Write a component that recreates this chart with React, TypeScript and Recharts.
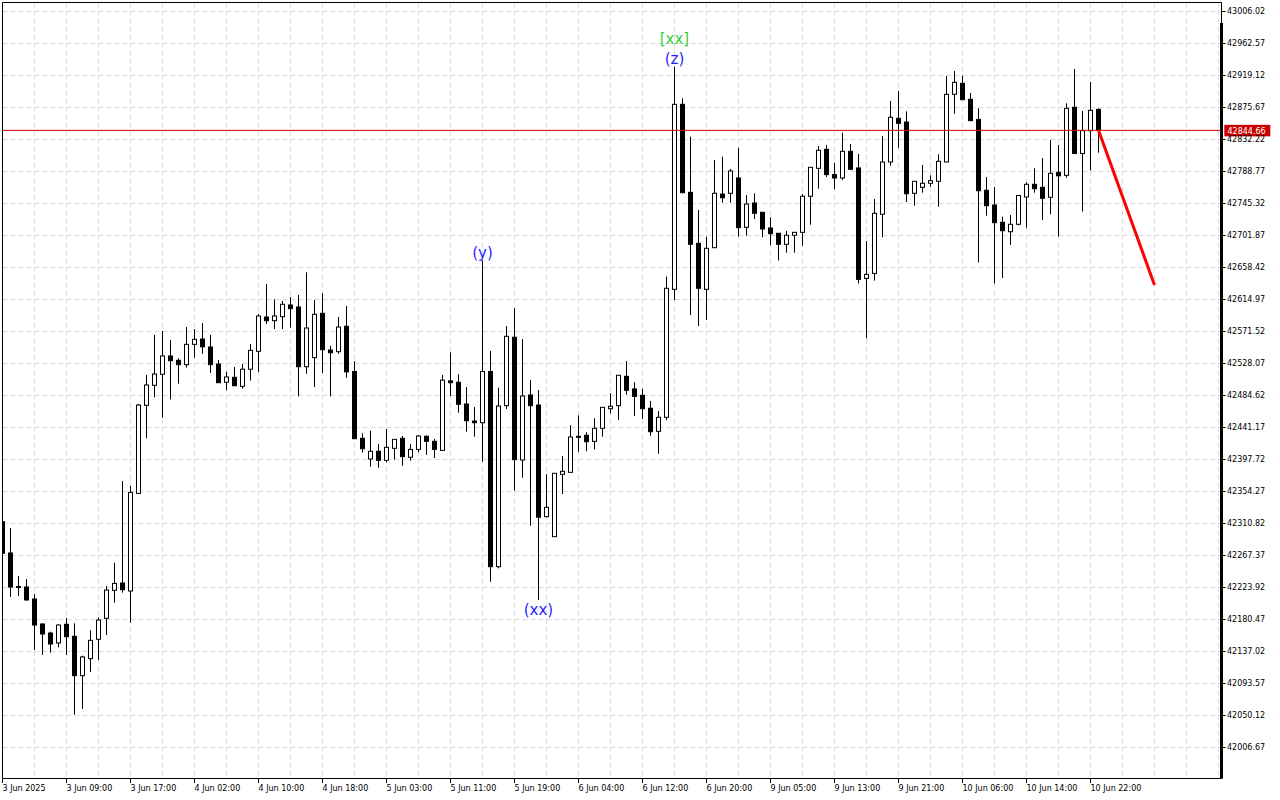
import React from 'react';
import { ComposedChart, Bar, XAxis, YAxis, CartesianGrid, ReferenceLine, ReferenceDot } from 'recharts';

// Hourly candles (index 0 = first visible bar)
const opens = [
  42313.3, 42270.8, 42225.3, 42224.6, 42208.3, 42174.4, 42162.1, 42148.6, 42174.0, 42157.7,
  42104.2, 42127.3, 42153.6, 42182.1, 42220.1, 42230.0, 42219.2, 42351.7, 42471.3, 42498.5,
  42513.4, 42538.3, 42532.4, 42526.5, 42554.1, 42561.3, 42550.5, 42527.4, 42502.6, 42509.3,
  42497.1, 42520.3, 42544.6, 42591.2, 42586.2, 42591.6, 42607.5, 42604.8, 42523.7, 42536.0,
  42596.2, 42546.4, 42544.1, 42578.6, 42517.2, 42426.5, 42398.4, 42408.9, 42396.6, 42412.9,
  42426.5, 42400.8, 42411.4, 42429.2, 42422.4, 42410.1, 42504.5, 42502.6, 42473.1, 42450.0,
  42447.7, 42517.2, 42252.2, 42470.8, 42563.7, 42397.1, 42485.3, 42471.7, 42320.1, 42292.9,
  42377.6, 42380.3, 42429.2, 42430.6, 42422.4, 42440.1, 42466.7, 42470.8, 42510.7, 42493.5,
  42484.9, 42467.3, 42436.0, 42455.0, 42628.8, 42880.0, 42760.5, 42691.3, 42628.8, 42685.3,
  42758.2, 42759.2, 42780.0, 42713.0, 42746.0, 42733.4, 42712.1, 42704.9, 42689.9, 42702.2,
  42706.2, 42755.2, 42793.1, 42818.9, 42784.6, 42780.0, 42816.2, 42793.6, 42643.6, 42650.4,
  42730.7, 42801.7, 42861.0, 42856.0, 42759.2, 42767.3, 42772.8, 42775.5, 42801.7, 42893.6,
  42908.5, 42886.8, 42859.5, 42763.3, 42743.3, 42719.8, 42707.0, 42717.1, 42754.2, 42771.4,
  42767.3, 42753.8, 42787.7, 42783.6, 42876.0, 42813.2, 42844.2, 42873.2,
];
const highs = [
  42316.9, 42304.7, 42239.5, 42235.5, 42215.1, 42175.0, 42163.9, 42174.0, 42182.5, 42175.3,
  42131.3, 42165.8, 42183.5, 42226.0, 42257.6, 42368.5, 42361.8, 42473.1, 42512.5, 42566.8,
  42572.2, 42560.0, 42535.1, 42577.6, 42574.9, 42583.1, 42566.8, 42532.8, 42516.7, 42523.3,
  42527.4, 42554.6, 42595.3, 42636.0, 42615.2, 42612.9, 42618.4, 42621.1, 42651.9, 42614.3,
  42623.5, 42552.1, 42591.2, 42606.2, 42531.1, 42433.3, 42436.8, 42418.8, 42439.1, 42425.1,
  42429.6, 42418.8, 42431.0, 42430.6, 42425.6, 42512.5, 42543.3, 42513.4, 42496.2, 42469.0,
  42667.9, 42545.1, 42495.2, 42579.0, 42603.4, 42561.3, 42505.7, 42492.1, 42377.6, 42379.0,
  42402.5, 42444.2, 42457.7, 42434.7, 42453.7, 42468.6, 42487.6, 42512.1, 42531.5, 42502.6,
  42493.5, 42477.2, 42463.6, 42646.1, 42931.1, 42888.2, 42836.0, 42736.5, 42700.2, 42804.4,
  42808.9, 42792.2, 42821.1, 42756.9, 42759.2, 42733.4, 42726.6, 42704.9, 42708.0, 42706.2,
  42758.2, 42794.5, 42823.4, 42824.8, 42800.7, 42841.5, 42826.1, 42812.5, 42694.4, 42751.4,
  42837.0, 42884.5, 42898.1, 42870.5, 42775.5, 42797.6, 42783.6, 42812.1, 42918.4, 42925.2,
  42918.9, 42895.4, 42874.6, 42781.3, 42767.7, 42727.4, 42729.7, 42756.9, 42774.1, 42793.1,
  42807.1, 42831.6, 42824.8, 42881.4, 42928.0, 42870.9, 42910.3, 42874.6,
];
const lows = [
  42266.7, 42211.0, 42212.4, 42206.0, 42139.1, 42132.3, 42135.4, 42142.7, 42132.3, 42051.2,
  42059.0, 42109.2, 42125.5, 42159.4, 42203.3, 42216.9, 42176.1, 42350.9, 42426.5, 42482.1,
  42454.5, 42479.4, 42500.7, 42522.4, 42536.0, 42541.3, 42515.3, 42502.0, 42491.7, 42497.9,
  42493.9, 42504.9, 42516.7, 42581.7, 42574.9, 42574.9, 42576.7, 42483.4, 42514.2, 42496.2,
  42515.3, 42483.4, 42541.3, 42508.8, 42426.0, 42407.0, 42388.0, 42386.6, 42393.9, 42397.5,
  42389.3, 42396.1, 42407.5, 42404.0, 42399.8, 42410.1, 42484.0, 42461.3, 42435.5, 42428.7,
  42394.7, 42231.8, 42250.0, 42466.3, 42355.4, 42373.0, 42307.8, 42207.0, 42319.3, 42292.9,
  42350.9, 42380.3, 42408.3, 42408.9, 42411.4, 42428.7, 42460.5, 42451.4, 42485.7, 42456.8,
  42452.7, 42430.0, 42405.5, 42451.0, 42614.3, 42759.2, 42593.9, 42579.0, 42587.1, 42685.3,
  42746.4, 42746.4, 42700.2, 42701.6, 42724.3, 42699.4, 42688.6, 42667.9, 42678.5, 42678.5,
  42688.1, 42716.5, 42765.4, 42781.3, 42764.7, 42777.2, 42791.8, 42636.8, 42562.3, 42640.6,
  42699.4, 42796.6, 42821.1, 42747.4, 42742.3, 42760.0, 42768.1, 42741.0, 42801.7, 42867.3,
  42886.3, 42857.8, 42665.3, 42728.8, 42636.8, 42644.2, 42689.0, 42715.7, 42712.5, 42760.0,
  42722.9, 42730.7, 42700.2, 42780.4, 42813.2, 42734.3, 42790.3, 42814.3,
];
const closes = [
  42270.4, 42224.6, 42223.9, 42207.0, 42173.0, 42160.8, 42147.2, 42173.0, 42157.1, 42104.2,
  42129.6, 42152.2, 42179.8, 42220.5, 42229.4, 42220.9, 42353.1, 42471.7, 42498.9, 42513.8,
  42538.3, 42531.9, 42526.5, 42554.1, 42560.9, 42550.8, 42526.5, 42502.0, 42509.8, 42497.9,
  42520.3, 42546.0, 42592.6, 42586.2, 42592.6, 42608.5, 42602.5, 42523.7, 42576.3, 42594.9,
  42546.8, 42542.7, 42577.6, 42516.7, 42426.0, 42412.4, 42408.9, 42396.6, 42414.3, 42425.1,
  42401.6, 42411.4, 42429.6, 42422.4, 42411.4, 42505.5, 42502.0, 42472.7, 42450.4, 42447.7,
  42517.2, 42252.2, 42470.4, 42565.0, 42397.5, 42484.0, 42470.8, 42319.3, 42332.8, 42379.0,
  42381.7, 42428.3, 42427.9, 42421.9, 42440.1, 42468.6, 42470.0, 42512.1, 42491.7, 42483.4,
  42466.7, 42435.5, 42455.0, 42630.2, 42880.0, 42760.0, 42689.9, 42630.2, 42684.5, 42759.2,
  42753.1, 42789.5, 42712.5, 42744.6, 42732.0, 42710.7, 42704.3, 42689.9, 42702.2, 42706.2,
  42755.2, 42794.5, 42817.6, 42784.6, 42780.0, 42816.2, 42791.8, 42642.3, 42649.1, 42732.0,
  42801.7, 42862.4, 42854.2, 42758.6, 42775.5, 42772.8, 42776.4, 42802.6, 42893.6, 42909.9,
  42886.3, 42857.8, 42762.7, 42742.3, 42719.3, 42708.4, 42717.1, 42756.2, 42771.4, 42765.4,
  42752.4, 42786.3, 42782.9, 42874.6, 42813.2, 42844.2, 42871.9, 42844.66,
];

// Time labels, one every 8 bars
const timeLabels = [
  '3 Jun 2025', '3 Jun 09:00', '3 Jun 17:00', '4 Jun 02:00', '4 Jun 10:00', '4 Jun 18:00',
  '5 Jun 03:00', '5 Jun 11:00', '5 Jun 19:00', '6 Jun 04:00', '6 Jun 12:00', '6 Jun 20:00',
  '9 Jun 05:00', '9 Jun 13:00', '9 Jun 21:00', '10 Jun 06:00', '10 Jun 14:00', '10 Jun 22:00',
];
const labelEvery = 8;
const gridEvery = 4;

const priceTicks = [
  43006.02, 42962.57, 42919.12, 42875.67, 42832.22, 42788.77, 42745.32, 42701.87,
  42658.42, 42614.97, 42571.52, 42528.07, 42484.62, 42441.17, 42397.72, 42354.27,
  42310.82, 42267.37, 42223.92, 42180.47, 42137.02, 42093.57, 42050.12, 42006.67,
];

const lastPrice = 42844.66;
const projection = [
  { i: 137, price: 42844.66 },
  { i: 144, price: 42634.7 },
];

const waveLabels = [
  { i: 60, price: 42667.9, text: '(y)', color: '#1f1fff', position: 'top', offset: 3 },
  { i: 67, price: 42207.0, text: '(xx)', color: '#1f1fff', position: 'bottom', offset: 4 },
  { i: 84, price: 42931.1, text: '(z)', color: '#1f1fff', position: 'top', offset: 3 },
  { i: 84, price: 42931.1, text: '[xx]', color: '#3ccf3c', position: 'top', offset: 23 },
];

const X_DOMAIN: [number, number] = [0, 152.375];
const Y_DOMAIN: [number, number] = [41964.58, 43018.25];
const rightEdgeTopPrice = 42990.4;

const data = opens.map((o, i) => ({ i, open: o, high: highs[i], low: lows[i], close: closes[i] }));
const gridTicks = Array.from({ length: Math.floor(X_DOMAIN[1] / gridEvery) + 1 }, (_, k) => k * gridEvery);

const FONT = 'DejaVu Sans';

const Candle = (props: any) => {
  const { x, y, width, height, payload } = props;
  if (x == null || y == null || !payload) return null;
  const cx = x + width / 2;
  const top = Math.min(y, y + height);
  const h = Math.abs(height);
  const { open, close, high, low } = payload;
  const span = high - low;
  const py = (v: number) => (span > 0 ? top + ((high - v) / span) * h : top);
  const yo = py(open);
  const yc = py(close);
  const bull = close >= open;
  const bTop = Math.min(yo, yc);
  const bBot = Math.max(yo, yc);
  return (
    <g>
      <line x1={cx} x2={cx} y1={top} y2={top + h} stroke="#000" strokeWidth={1} />
      <rect
        x={cx - 2}
        y={bTop}
        width={4}
        height={Math.max(bBot - bTop, 0.5)}
        fill={bull ? '#fff' : '#000'}
        stroke="#000"
        strokeWidth={1}
      />
    </g>
  );
};

const TimeTick = (props: any) => {
  const { x, y, payload } = props;
  const v = payload?.value;
  if (v == null || v % labelEvery !== 0) return null;
  const label = timeLabels[v / labelEvery];
  if (!label) return null;
  return (
    <g>
      <line x1={x} x2={x} y1={y} y2={y + 4.5} stroke="#000" strokeWidth={1} />
      <text x={x} y={y + 12.5} fill="#000" fontSize={8} fontFamily={FONT} textAnchor="start">
        {label}
      </text>
    </g>
  );
};

const PriceTag = (props: any) => {
  const vb = props.viewBox || {};
  const x = (vb.x ?? 0) + (vb.width ?? 0);
  const y = vb.y ?? 0;
  return (
    <g>
      <rect x={x + 2.8} y={y - 5.5} width={46} height={11.5} fill="#cc0000" />
      <text x={x + 6} y={y + 3.2} fill="#ffffff" fontSize={8} fontFamily={FONT}>
        {lastPrice.toFixed(2)}
      </text>
    </g>
  );
};

export default function App() {
  return (
    <div style={{ position: 'absolute', left: 0, top: 0, width: 1280, height: 800, background: '#fff' }}>
      <ComposedChart
        width={1280}
        height={800}
        data={data}
        margin={{ top: 2.5, right: 0, bottom: 0, left: 2.5 }}
      >
        <CartesianGrid stroke="#dadada" strokeDasharray="5 3" />
        <XAxis
          dataKey="i"
          type="number"
          domain={X_DOMAIN}
          ticks={gridTicks}
          interval={0}
          allowDataOverflow
          height={21.5}
          tickSize={0}
          tickMargin={0}
          tickLine={false}
          axisLine={{ stroke: '#000' }}
          tick={<TimeTick />}
        />
        <YAxis
          orientation="right"
          type="number"
          domain={Y_DOMAIN}
          ticks={priceTicks}
          interval={0}
          allowDataOverflow
          width={58.5}
          tickSize={4}
          tickMargin={1.5}
          axisLine={{ stroke: '#000' }}
          tickLine={{ stroke: '#000' }}
          tick={{ fill: '#000', fontSize: 8, fontFamily: FONT }}
          tickFormatter={(v: number) => v.toFixed(2)}
        />
        <Bar
          dataKey={(d: any) => [d.low, d.high]}
          barSize={6}
          shape={(p: any) => <Candle {...p} />}
          isAnimationActive={false}
        />
        <ReferenceLine x={X_DOMAIN[0]} stroke="#000" strokeWidth={1} />
        <ReferenceLine y={Y_DOMAIN[1]} stroke="#000" strokeWidth={1} />
        <ReferenceLine
          segment={[
            { x: X_DOMAIN[1], y: rightEdgeTopPrice },
            { x: X_DOMAIN[1], y: Y_DOMAIN[0] },
          ]}
          stroke="#000"
          strokeWidth={3}
          ifOverflow="visible"
        />
        <ReferenceLine
          y={lastPrice}
          stroke="#d40000"
          strokeWidth={1}
          label={(p: any) => <PriceTag {...p} />}
        />
        <ReferenceLine
          segment={projection.map((pt) => ({ x: pt.i, y: pt.price }))}
          stroke="#ff0000"
          strokeWidth={3}
          ifOverflow="visible"
        />
        {waveLabels.map((w, k) => (
          <ReferenceDot
            key={k}
            x={w.i}
            y={w.price}
            r={0}
            fill="none"
            stroke="none"
            ifOverflow="visible"
            label={{
              value: w.text,
              position: w.position as any,
              offset: w.offset,
              fill: w.color,
              fontSize: 15,
              fontFamily: FONT,
            }}
          />
        ))}
      </ComposedChart>
    </div>
  );
}
